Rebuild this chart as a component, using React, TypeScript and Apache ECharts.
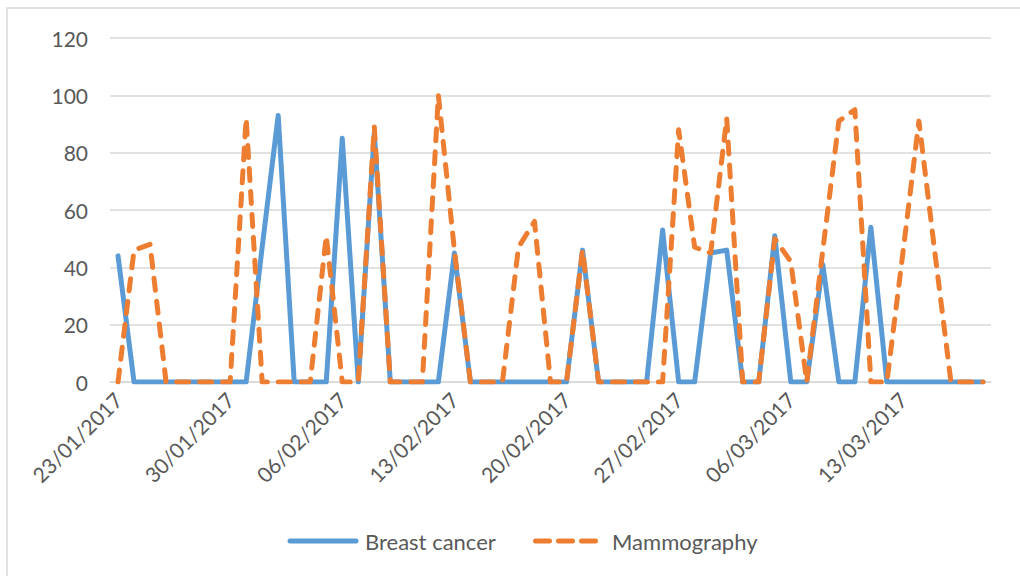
import React, { useEffect, useRef } from "react";
import * as echarts from "echarts";

const dates: string[] = [
  "23/01/2017", "24/01/2017", "25/01/2017", "26/01/2017", "27/01/2017", "28/01/2017", "29/01/2017",
  "30/01/2017", "31/01/2017", "01/02/2017", "02/02/2017", "03/02/2017", "04/02/2017", "05/02/2017",
  "06/02/2017", "07/02/2017", "08/02/2017", "09/02/2017", "10/02/2017", "11/02/2017", "12/02/2017",
  "13/02/2017", "14/02/2017", "15/02/2017", "16/02/2017", "17/02/2017", "18/02/2017", "19/02/2017",
  "20/02/2017", "21/02/2017", "22/02/2017", "23/02/2017", "24/02/2017", "25/02/2017", "26/02/2017",
  "27/02/2017", "28/02/2017", "01/03/2017", "02/03/2017", "03/03/2017", "04/03/2017", "05/03/2017",
  "06/03/2017", "07/03/2017", "08/03/2017", "09/03/2017", "10/03/2017", "11/03/2017", "12/03/2017",
  "13/03/2017", "14/03/2017", "15/03/2017", "16/03/2017", "17/03/2017", "18/03/2017",
];

const breastCancer: number[] = [
  44, 0, 0, 0, 0, 0, 0,
  0, 0, 47, 93, 0, 0, 0,
  85, 0, 87, 0, 0, 0, 0,
  45, 0, 0, 0, 0, 0, 0,
  0, 46, 0, 0, 0, 0, 53,
  0, 0, 45, 46, 0, 0, 51,
  0, 0, 41, 0, 0, 54, 0,
  0, 0, 0, 0, 0, 0,
];

const mammography: number[] = [
  0, 46, 48, 0, 0, 0, 0,
  0, 92, 0, 0, 0, 0, 51,
  0, 0, 89, 0, 0, 0, 100,
  46, 0, 0, 0, 47, 56, 0,
  0, 46, 0, 0, 0, 0, 0,
  88, 47, 45, 92, 0, 0, 50,
  42, 0, 46, 91, 95, 0, 0,
  45, 91, 45, 0, 0, 0,
];

const seriesNames: string[] = ["Breast cancer", "Mammography"];
const yTicks = { min: 0, max: 120, interval: 20 };

const FONT = "Lato, 'Liberation Sans', sans-serif";
const BLUE = "#5B9BD5";
const ORANGE = "#ED7D31";
const TEXT = "#595959";
const GRID = "#d9d9d9";

export default function App() {
  const ref = useRef<HTMLDivElement>(null);
  useEffect(() => {
    if (!ref.current) return;
    const chart = echarts.init(ref.current, undefined, { renderer: "svg" });
    const legendY = 541;
    chart.setOption({
      animation: false,
      backgroundColor: "#ffffff",
      textStyle: { fontFamily: FONT },
      grid: { left: 110, right: 29, top: 38, bottom: 194, containLabel: false },
      graphic: [
        {
          type: "rect",
          shape: { x: 7, y: 8, width: 1200, height: 800 },
          style: { fill: "none", stroke: GRID, lineWidth: 1.5 },
          silent: true,
        },
        {
          type: "line",
          shape: { x1: 290, y1: legendY, x2: 356, y2: legendY },
          style: { stroke: BLUE, lineWidth: 5, lineCap: "round" },
          silent: true,
        },
        {
          type: "text",
          x: 365,
          y: legendY,
          style: {
            text: seriesNames[0],
            fill: TEXT,
            font: `22px ${FONT}`,
            verticalAlign: "middle",
          },
          silent: true,
        },
        {
          type: "line",
          shape: { x1: 535.5, y1: legendY, x2: 597.5, y2: legendY },
          style: { stroke: ORANGE, lineWidth: 5, lineCap: "round", lineDash: [14, 9] },
          silent: true,
        },
        {
          type: "text",
          x: 612,
          y: legendY,
          style: {
            text: seriesNames[1],
            fill: TEXT,
            font: `22px ${FONT}`,
            verticalAlign: "middle",
          },
          silent: true,
        },
      ],
      xAxis: {
        type: "category",
        data: dates,
        boundaryGap: true,
        axisLine: { lineStyle: { color: GRID, width: 1.5 } },
        axisTick: { interval: 6, length: 7, lineStyle: { color: GRID, width: 1.5 } },
        axisLabel: {
          interval: 6,
          rotate: 45,
          margin: 14,
          fontFamily: FONT,
          fontSize: 21,
          color: TEXT,
        },
        splitLine: { show: false },
      },
      yAxis: {
        type: "value",
        min: yTicks.min,
        max: yTicks.max,
        interval: yTicks.interval,
        axisLine: { show: false },
        axisTick: { show: false },
        axisLabel: { margin: 22, fontFamily: FONT, fontSize: 21, color: TEXT },
        splitLine: { lineStyle: { color: GRID, width: 1.5 } },
      },
      series: [
        {
          name: seriesNames[0],
          type: "line",
          data: breastCancer,
          symbol: "none",
          color: BLUE,
          lineStyle: { color: BLUE, width: 5, cap: "round", join: "round" },
        },
        {
          name: seriesNames[1],
          type: "line",
          data: mammography,
          symbol: "none",
          color: ORANGE,
          lineStyle: {
            color: ORANGE,
            width: 5,
            type: [12, 11],
            cap: "round",
            join: "round",
          },
        },
      ],
    });
    return () => chart.dispose();
  }, []);
  return (
    <div
      ref={ref}
      style={{ position: "fixed", left: 0, top: 0, width: 1020, height: 576 }}
    />
  );
}
